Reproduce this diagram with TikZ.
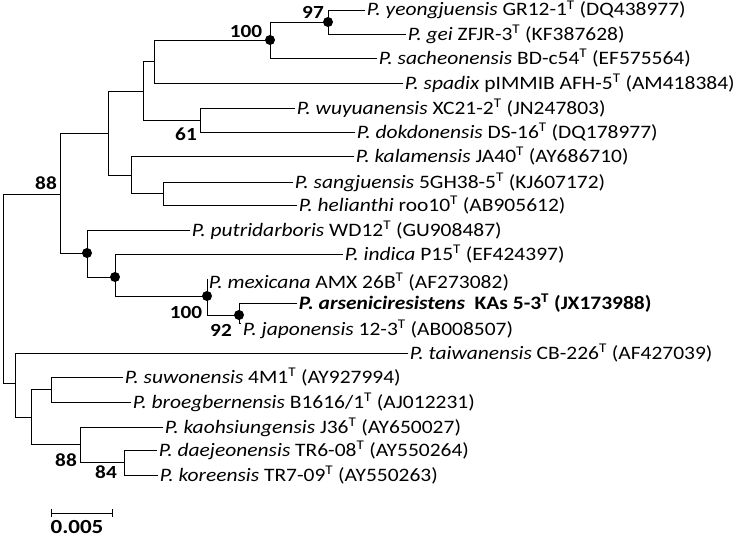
\documentclass[tikz,border=0pt]{standalone}
\usepackage{fontspec}
\setmainfont{Carlito}
\usepackage{tikz}
\tikzset{
    leaf/.style={anchor=base west,inner xsep=1.5pt,inner ysep=0pt,yshift=-6pt,
        xscale=1.13,transform shape,font=\fontsize{19}{21}\selectfont},%叶子标签
    boot/.style={inner sep=0pt,xscale=1.15,transform shape,font=\bfseries\fontsize{18.5}{20}\selectfont},%支持率
    branch/.style={line width=0.85pt,line cap=rect}
}
\begin{document}
\begin{tikzpicture}[x=1pt,y=-1pt]
        \useasboundingbox (0,0) rectangle (740,538);%画布大小
        % 叶子末端
        \coordinate (yeo) at (365,10);
        \coordinate (gei) at (406,34);
        \coordinate (sac) at (377,58);
        \coordinate (spa) at (403,83);
        \coordinate (wuy) at (295,108);
        \coordinate (dok) at (355,132);
        \coordinate (kal) at (354,156);
        \coordinate (san) at (293,182);
        \coordinate (hel) at (297,205);
        \coordinate (put) at (190,230);
        \coordinate (ind) at (343,254);
        \coordinate (mex) at (207,279);
        \coordinate (ars) at (297,303);
        \coordinate (jap) at (241,323);
        \coordinate (tai) at (408,353);
        \coordinate (suw) at (123,377);
        \coordinate (bro) at (131,402);
        \coordinate (kao) at (163,427);
        \coordinate (dae) at (157,450);
        \coordinate (kor) at (158,475);
        % 内部结点
        \coordinate (root) at (3,288);
        \coordinate (nup) at (60,194);
        \coordinate (nc) at (108,133);
        \coordinate (nb) at (143,91);
        \coordinate (na) at (154,61);
        \coordinate (nh) at (270,40);
        \coordinate (ns) at (328,22);
        \coordinate (nw) at (200,120);
        \coordinate (nd) at (131,175);
        \coordinate (ne) at (163,193);
        \coordinate (ng) at (87,253);
        \coordinate (ni) at (115,277);
        \coordinate (nm) at (207,296);
        \coordinate (nj) at (239,315);
        \coordinate (nlow) at (15,383);
        \coordinate (nk) at (31,417);
        \coordinate (nl) at (51,389);
        \coordinate (nt) at (80,444);
        \coordinate (nr) at (124,462);
        \foreach \p/\c in {root/nup,root/nlow,nup/nc,nup/ng,nc/nb,nc/nd,nb/na,nb/nw,
            na/nh,na/spa,nh/ns,nh/sac,ns/yeo,ns/gei,nw/wuy,nw/dok,nd/kal,nd/ne,
            ne/san,ne/hel,ng/put,ng/ni,ni/ind,ni/nm,nm/mex,nm/nj,nj/ars,nj/jap,
            nlow/tai,nlow/nk,nk/nl,nk/nt,nl/suw,nl/bro,nt/kao,nt/nr,nr/dae,nr/kor}%树枝
        {
            \draw[branch] (\p) |- (\c);
        }
        \foreach \p in {ns,nh,ng,ni,nm,nj}%黑点
        {
            \fill (\p) circle (5pt);
        }
        \node[leaf] (tyeo) at (yeo) {\textit{P. yeongjuensis} GR12-1\textsuperscript{T} (DQ438977)};
        \node[leaf] (tgei) at (gei) {\textit{P. gei} ZFJR-3\textsuperscript{T} (KF387628)};
        \node[leaf] (tsac) at (sac) {\textit{P. sacheonensis} BD-c54\textsuperscript{T} (EF575564)};
        \node[leaf] (tspa) at (spa) {\textit{P. spadix} pIMMIB AFH-5\textsuperscript{T} (AM418384)};
        \node[leaf] (twuy) at (wuy) {\textit{P. wuyuanensis} XC21-2\textsuperscript{T} (JN247803)};
        \node[leaf] (tdok) at (dok) {\textit{P. dokdonensis} DS-16\textsuperscript{T} (DQ178977)};
        \node[leaf] (tkal) at (kal) {\textit{P. kalamensis} JA40\textsuperscript{T} (AY686710)};
        \node[leaf] (tsan) at (san) {\textit{P. sangjuensis} 5GH38-5\textsuperscript{T} (KJ607172)};
        \node[leaf] (thel) at (hel) {\textit{P. helianthi} roo10\textsuperscript{T} (AB905612)};
        \node[leaf] (tput) at (put) {\textit{P. putridarboris} WD12\textsuperscript{T} (GU908487)};
        \node[leaf] (tind) at (ind) {\textit{P. indica} P15\textsuperscript{T} (EF424397)};
        \node[leaf] (tmex) at ([yshift=-3pt]mex) {\textit{P. mexicana} AMX 26B\textsuperscript{T} (AF273082)};
        \node[leaf] (tars) at (ars) {\bfseries\textit{P. arseniciresistens}\ \ KAs 5-3\textsuperscript{T} (JX173988)};
        \node[leaf] (tjap) at ([yshift=-6pt]jap) {\textit{P. japonensis} 12-3\textsuperscript{T} (AB008507)};
        \node[leaf] (ttai) at (tai) {\textit{P. taiwanensis} CB-226\textsuperscript{T} (AF427039)};
        \node[leaf] (tsuw) at (suw) {\textit{P. suwonensis} 4M1\textsuperscript{T} (AY927994)};
        \node[leaf] (tbro) at (bro) {\textit{P. broegbernensis} B1616/1\textsuperscript{T} (AJ012231)};
        \node[leaf] (tkao) at (kao) {\textit{P. kaohsiungensis} J36\textsuperscript{T} (AY650027)};
        \node[leaf] (tdae) at (dae) {\textit{P. daejeonensis} TR6-08\textsuperscript{T} (AY550264)};
        \node[leaf] (tkor) at (kor) {\textit{P. koreensis} TR7-09\textsuperscript{T} (AY550263)};
        % 自展值
        \node[boot] (b97) at (313,12) {97};
        \node[boot] (b100a) at (246,31) {100};
        \node[boot] (b61) at (186,134) {61};
        \node[boot] (b88a) at (46,183) {88};
        \node[boot] (b100b) at (186,312) {100};
        \node[boot] (b92) at (221,330) {92};
        \node[boot] (b88b) at (66,460) {88};
        \node[boot] (b84) at (106,472) {84};
        % 标尺
        \coordinate (sl) at (51,513);
        \coordinate (sr) at (112,513);
        \draw[branch,line cap=butt] (sl) -- (sr);
        \draw[branch,line cap=butt] ([yshift=-4]sl) -- ([yshift=4]sl) ([yshift=-4]sr) -- ([yshift=4]sr);
        \node[boot,font=\bfseries\fontsize{20}{22}\selectfont] (scale) at (77,527) {0.005};
\end{tikzpicture}
\end{document}
